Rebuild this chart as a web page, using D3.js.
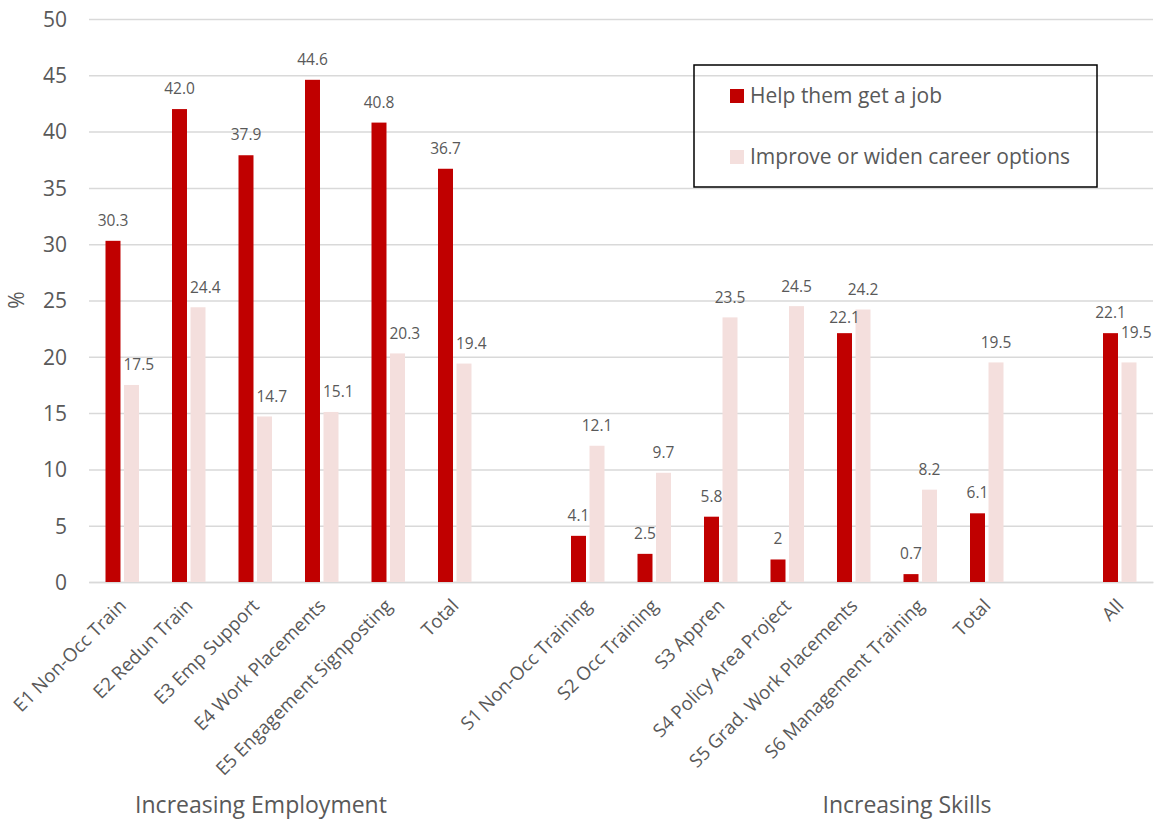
<!DOCTYPE html>
<html><head><meta charset="utf-8">
<script src="https://cdn.jsdelivr.net/npm/d3@7"></script>
<style>
html,body{margin:0;padding:0;background:#fff;}
svg text{font-family:"Open Sans",sans-serif;fill:#595959;}
</style></head>
<body>
<svg id="chart" width="1155" height="823"></svg>
<script>
// ---- data ----
const categories = ["E1 Non-Occ Train","E2 Redun Train","E3 Emp Support","E4 Work Placements","E5 Engagement Signposting","Total","","S1 Non-Occ Training","S2 Occ Training","S3 Appren","S4 Policy Area Project","S5 Grad. Work Placements","S6 Management Training","Total","","All"];
const seriesNames = ["Help them get a job","Improve or widen career options"];
const jobValues    = [30.3,42.0,37.9,44.6,40.8,36.7,null,4.1,2.5,5.8,2,22.1,0.7,6.1,null,22.1];
const careerValues = [17.5,24.4,14.7,15.1,20.3,19.4,null,12.1,9.7,23.5,24.5,24.2,8.2,19.5,null,19.5];
const jobLabels    = ["30.3","42.0","37.9","44.6","40.8","36.7","","4.1","2.5","5.8","2","22.1","0.7","6.1","","22.1"];
const careerLabels = ["17.5","24.4","14.7","15.1","20.3","19.4","","12.1","9.7","23.5","24.5","24.2","8.2","19.5","","19.5"];
const yTicks = [0,5,10,15,20,25,30,35,40,45,50];
const groupLabels = ["Increasing Employment","Increasing Skills"];
const colors = ["#C00000","#F4DFDD"];

(function(){
// ---- layout ----
const svg = d3.select("#chart");
const pL = 89, pR = 1153, pT = 19, pB = 582;

const x0 = d3.scaleBand().domain(d3.range(categories.length)).range([pL,pR]).padding(0);
const x1 = d3.scaleBand().domain([0,1]).range([-16.75,16.75]).paddingInner(0.19);
const y = d3.scaleLinear().domain([0,50]).range([pB,pT]);
const barX = (i,s) => x0(i)+x0.bandwidth()/2+x1(s);

// gridlines + y axis
const yAxis = d3.axisLeft(y).tickValues(yTicks).tickSize(-(pR-pL)).tickPadding(22);
const gy = svg.append("g").attr("transform",`translate(${pL},0)`).call(yAxis);
gy.select(".domain").remove();
gy.selectAll(".tick line").attr("stroke","#d9d9d9").attr("stroke-width",1.5);
gy.selectAll(".tick text").style("font-size","21px").attr("fill","#595959").attr("dy","0.35em");

// x axis (category labels)
const xAxis = d3.axisBottom(x0).tickSize(0).tickFormat(i=>categories[i]);
const gx = svg.append("g").attr("transform",`translate(0,${pB})`).call(xAxis);
gx.select(".domain").attr("stroke","#d9d9d9").attr("stroke-width",1.5);
gx.selectAll(".tick text")
  .style("font-size","18.6px").attr("fill","#595959")
  .attr("text-anchor","end")
  .attr("y",0).attr("dy",0)
  .attr("transform","translate(5,25) rotate(-45)");

// bars
const seriesVals = [jobValues, careerValues];
const seriesLabs = [jobLabels, careerLabels];
seriesVals.forEach((vals, s) => {
  const data = vals.map((v,i)=>({v,i})).filter(d=>d.v!==null);
  svg.append("g").selectAll("rect").data(data).join("rect")
    .attr("x", d=>barX(d.i,s))
    .attr("width", x1.bandwidth())
    .attr("y", d=>y(d.v))
    .attr("height", d=>y(0)-y(d.v))
    .attr("fill", colors[s]);
});

// data labels
const last = categories.length-1;
seriesVals.forEach((vals, s) => {
  const data = vals.map((v,i)=>({v,i,l:seriesLabs[s][i]})).filter(d=>d.v!==null);
  // a pink label beside a taller red bar is pushed right, starting at the pink bar's edge
  const shifted = d => s===1 && jobValues[d.i] > d.v;
  svg.append("g").selectAll("text").data(data).join("text")
    .attr("x", d=> shifted(d) ? barX(d.i,s)-0.5 : barX(d.i,s)+x1.bandwidth()/2)
    .attr("text-anchor", d=> shifted(d) ? "start" : "middle")
    .attr("y", d=>{
      let yy = y(d.v) - (s===0 ? 15 : 14.5);
      if (s===0 && d.i===11) yy += 5;
      if (s===1 && d.i===last) yy -= 10;
      return yy;
    })
    .style("font-size","15.5px")
    .text(d=>d.l);
});

// y axis title
svg.append("text").attr("transform","translate(24,300) rotate(-90)")
  .attr("text-anchor","middle").style("font-size","21px").text("%");

// group labels
svg.append("text").attr("x",261).attr("y",813).attr("text-anchor","middle")
  .style("font-size","23px").text(groupLabels[0]);
svg.append("text").attr("x",907).attr("y",813).attr("text-anchor","middle")
  .style("font-size","23px").text(groupLabels[1]);

// legend
const lg = svg.append("g");
lg.append("rect").attr("x",694).attr("y",65).attr("width",403).attr("height",122)
  .attr("fill","none").attr("stroke","#000").attr("stroke-width",1.5);
seriesNames.forEach((n,k)=>{
  const yy = 89 + k*61;
  lg.append("rect").attr("x",730).attr("y",yy).attr("width",14).attr("height",14).attr("fill",colors[k]);
  lg.append("text").attr("x",750).attr("y",yy+14).style("font-size","21px").text(n);
});
})();
</script>
</body></html>
